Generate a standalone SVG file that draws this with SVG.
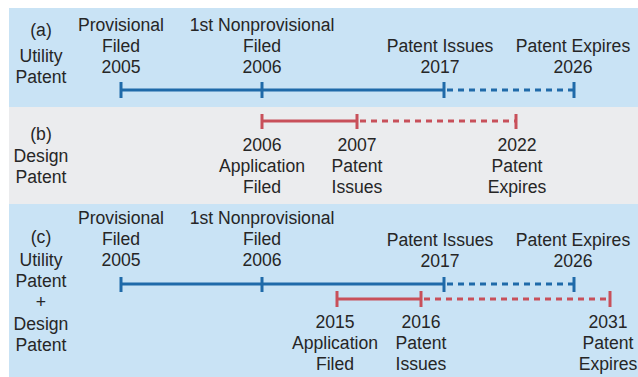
<svg xmlns="http://www.w3.org/2000/svg" width="638" height="377" viewBox="0 0 638 377">
  <style>
    text { font-family: "Liberation Sans", Arial, sans-serif; font-size: 17.6px; fill: #262626; text-anchor: middle; }
    .blue { stroke: #1f6aa9; stroke-width: 3; fill: none; }
    .red { stroke: #c8505a; stroke-width: 3; fill: none; }
    .dash { stroke-dasharray: 6 5; }
  </style>
  <rect x="0" y="0" width="638" height="377" fill="#ffffff"/>

  <!-- panel backgrounds -->
  <g id="panels">
    <rect x="9" y="8" width="629" height="99" fill="#c9e3f5"/>
    <rect x="9" y="107" width="629" height="97" fill="#ebecee"/>
    <rect x="9" y="204" width="629" height="173" fill="#c9e3f5"/>
  </g>

  <!-- row labels -->
  <g id="label-a">
    <text x="41" y="36">(a)</text>
    <text x="41" y="62">Utility</text>
    <text x="41" y="83">Patent</text>
  </g>
  <g id="label-b">
    <text x="41" y="140">(b)</text>
    <text x="41" y="162">Design</text>
    <text x="41" y="183">Patent</text>
  </g>
  <g id="label-c">
    <text x="41" y="243">(c)</text>
    <text x="41" y="266">Utility</text>
    <text x="41" y="287">Patent</text>
    <text x="41" y="308">+</text>
    <text x="41" y="330">Design</text>
    <text x="41" y="351">Patent</text>
  </g>

  <!-- timelines -->
  <g id="connectors">
    <!-- (a) utility -->
    <line class="blue" x1="121" y1="90" x2="444" y2="90"/>
    <line class="blue dash" x1="447" y1="90" x2="574" y2="90"/>
    <line class="blue" x1="121" y1="82" x2="121" y2="98"/>
    <line class="blue" x1="262" y1="82" x2="262" y2="98"/>
    <line class="blue" x1="444" y1="82" x2="444" y2="98"/>
    <line class="blue" x1="574" y1="82" x2="574" y2="98"/>
    <!-- (b) design -->
    <line class="red" x1="262" y1="121" x2="357" y2="121"/>
    <line class="red dash" x1="360" y1="121" x2="516" y2="121"/>
    <line class="red" x1="262" y1="114" x2="262" y2="129"/>
    <line class="red" x1="357" y1="114" x2="357" y2="129"/>
    <line class="red" x1="516" y1="114" x2="516" y2="129"/>
    <!-- (c) utility -->
    <line class="blue" x1="121" y1="284" x2="444" y2="284"/>
    <line class="blue dash" x1="447" y1="284" x2="574" y2="284"/>
    <line class="blue" x1="121" y1="277" x2="121" y2="292"/>
    <line class="blue" x1="262" y1="277" x2="262" y2="292"/>
    <line class="blue" x1="444" y1="277" x2="444" y2="292"/>
    <line class="blue" x1="574" y1="277" x2="574" y2="292"/>
    <!-- (c) design -->
    <line class="red" x1="337" y1="299" x2="421" y2="299"/>
    <line class="red dash" x1="424" y1="299" x2="610" y2="299"/>
    <line class="red" x1="337" y1="291" x2="337" y2="307"/>
    <line class="red" x1="421" y1="291" x2="421" y2="307"/>
    <line class="red" x1="610" y1="291" x2="610" y2="307"/>
  </g>

  <!-- (a) events -->
  <g id="a-provisional">
    <text x="121" y="31">Provisional</text>
    <text x="121" y="52">Filed</text>
    <text x="121" y="73">2005</text>
  </g>
  <g id="a-nonprovisional">
    <text x="262" y="31">1st Nonprovisional</text>
    <text x="262" y="52">Filed</text>
    <text x="262" y="73">2006</text>
  </g>
  <g id="a-issues">
    <text x="440" y="52">Patent Issues</text>
    <text x="440" y="73">2017</text>
  </g>
  <g id="a-expires">
    <text x="573" y="52">Patent Expires</text>
    <text x="573" y="73">2026</text>
  </g>

  <!-- (b) events -->
  <g id="b-filed">
    <text x="262" y="151">2006</text>
    <text x="262" y="172">Application</text>
    <text x="262" y="193">Filed</text>
  </g>
  <g id="b-issues">
    <text x="357" y="151">2007</text>
    <text x="357" y="172">Patent</text>
    <text x="357" y="193">Issues</text>
  </g>
  <g id="b-expires">
    <text x="517" y="151">2022</text>
    <text x="517" y="172">Patent</text>
    <text x="517" y="193">Expires</text>
  </g>

  <!-- (c) events -->
  <g id="c-provisional">
    <text x="121" y="224">Provisional</text>
    <text x="121" y="245">Filed</text>
    <text x="121" y="266">2005</text>
  </g>
  <g id="c-nonprovisional">
    <text x="262" y="224">1st Nonprovisional</text>
    <text x="262" y="245">Filed</text>
    <text x="262" y="266">2006</text>
  </g>
  <g id="c-issues">
    <text x="440" y="246">Patent Issues</text>
    <text x="440" y="267">2017</text>
  </g>
  <g id="c-expires">
    <text x="573" y="246">Patent Expires</text>
    <text x="573" y="267">2026</text>
  </g>
  <g id="c-design-filed">
    <text x="335" y="328">2015</text>
    <text x="335" y="349">Application</text>
    <text x="335" y="370">Filed</text>
  </g>
  <g id="c-design-issues">
    <text x="421" y="328">2016</text>
    <text x="421" y="349">Patent</text>
    <text x="421" y="370">Issues</text>
  </g>
  <g id="c-design-expires">
    <text x="608" y="328">2031</text>
    <text x="608" y="349">Patent</text>
    <text x="608" y="370">Expires</text>
  </g>
</svg>
